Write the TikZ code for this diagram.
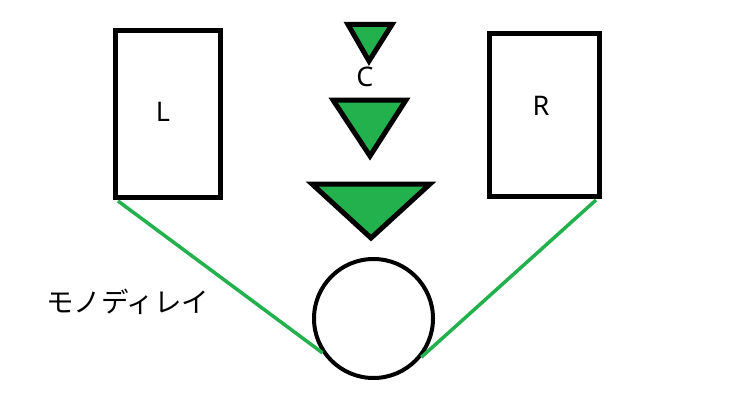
\documentclass[tikz,border=0pt]{standalone}
\usepackage{fontspec}
\setmainfont{Noto Sans}
\newfontfamily\jpfont{Noto Sans CJK JP}
\definecolor{pgreen}{HTML}{22B14C}
\begin{document}
\begin{tikzpicture}[x=1pt,y=-1pt,
  box/.style={draw=black,line width=5pt,fill=white,minimum width=#1},
  lbl/.style={font=\fontsize{27}{27}\selectfont,inner sep=0pt},
  tri/.style={draw=black,line width=5pt,fill=pgreen,line join=miter},
  wire/.style={draw=pgreen,line width=3.5pt},
  ring/.style={draw=black,line width=4pt,circle,minimum size=119pt,inner sep=0pt}]
\useasboundingbox (0,0) rectangle (736,404);
% speakers
\node[box=105pt,minimum height=167pt] (L) at (168,114) {};
\node[box=110pt,minimum height=163pt] (R) at (544.5,115) {};
\node[lbl] (Ltext) at (163,112) {L};
\node[lbl] (Rtext) at (541,106) {R};
% centre triangles
\coordinate (t1a) at (348,24.5); \coordinate (t1b) at (392,24.5); \coordinate (t1c) at (369,61);
\coordinate (t2a) at (333,100);  \coordinate (t2b) at (406,100);  \coordinate (t2c) at (370,156);
\coordinate (t3a) at (312,184);  \coordinate (t3b) at (430,184);  \coordinate (t3c) at (371,238);
\path[tri] (t1a) -- (t1b) -- (t1c) -- cycle;
\path[tri] (t2a) -- (t2b) -- (t2c) -- cycle;
\path[tri] (t3a) -- (t3b) -- (t3c) -- cycle;
\node[lbl] (Ctext) at (365,77) {C};
% listener
\node[ring] (head) at (373.5,318.5) {};
% connectors
\draw[wire] ([xshift=5pt,yshift=-1pt]L.south west) -- (head.214);
\draw[wire] ([xshift=-6pt,yshift=-1pt]R.south east) -- (head.-39);
% label
\node[anchor=west,inner sep=0pt,font=\jpfont\fontsize{27.5}{27.5}\selectfont] (mono) at (46,302) {モノディレイ};
\end{tikzpicture}
\end{document}
